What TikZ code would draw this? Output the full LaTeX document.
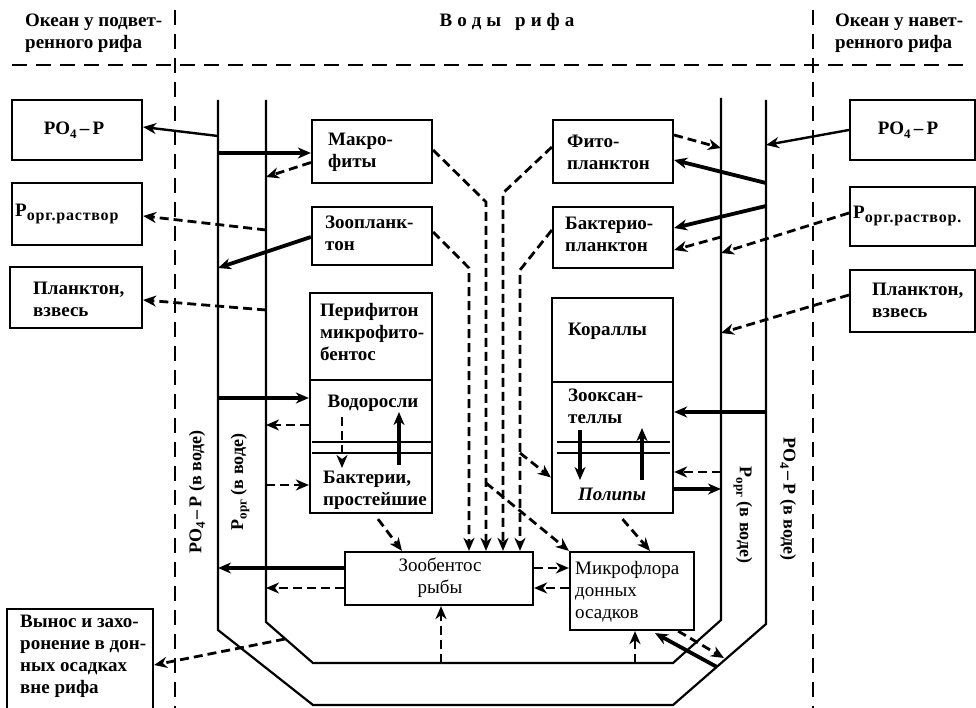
\documentclass[tikz,border=0pt]{standalone}
\usepackage{fontspec}
\setmainfont{Liberation Serif}
\usetikzlibrary{arrows.meta,calc}
\newcommand\bxf{\fontsize{19}{22}\selectfont\bfseries}
\newcommand\rgf{\fontsize{19}{22}\selectfont}
\newcommand\chf{\fontsize{18}{20}\selectfont\bfseries}
\newcommand\lowsub[1]{\raisebox{-3.5pt}{\fontsize{13}{13}\selectfont #1}}
\newcommand\orgsub[1]{\raisebox{-4pt}{\fontsize{16}{16}\selectfont\addfontfeature{LetterSpace=5}#1}}
\begin{document}
\begin{tikzpicture}[x=1pt,y=-1pt,
  >={Stealth[length=13pt,width=11pt,inset=4pt]},
  box/.style={draw,line width=2.2pt,inner sep=0pt},
  txt/.style={inner sep=0pt,align=left,font=\bxf},
  chan/.style={line width=2.2pt,line join=miter},
  thinarr/.style={->,line width=2.4pt},
  thickarr/.style={->,line width=3.8pt},
  dasharr/.style={->,line width=2.8pt,dash pattern=on 9pt off 5pt},
  border/.style={line width=2.2pt,dash pattern=on 15pt off 9pt}]
\useasboundingbox (0,0) rectangle (976,708);
% separators
\draw[border] (175,10) -- (175,708);
\draw[border] (813,10) -- (813,708);
\draw[border] (12,65) -- (965,65);
% headers
\node[txt,anchor=west] (hl) at (25,33) {Океан у подвет-\\ренного рифа};
\node[txt,anchor=west] (hr) at (835,33) {Океан у навет-\\ренного рифа};
\node[txt,font=\fontsize{19}{20}\selectfont\bfseries] (hc) at (507,22) {В\hspace{5pt}о\hspace{5pt}д\hspace{5pt}ы\hspace{14pt}р\hspace{5pt}и\hspace{5pt}ф\hspace{5pt}а};
% channels
\draw[chan] (218,100) -- (218,630) -- (313,705) -- (673,705) -- (766,624) -- (766,100);
\draw[chan] (266,100) -- (266,622) -- (313,663) -- (673,663) -- (721,620) -- (721,98);
\node[txt,font=\chf,rotate=90] (chl1) at (197,492) {PO\lowsub{4}\,–\,P (в воде)};
\node[txt,font=\chf,rotate=90] (chl2) at (240,482) {P\lowsub{орг} (в воде)};
\node[txt,font=\chf,rotate=-90] (chr2) at (743,515) {P\lowsub{орг} (в воде)};
\node[txt,font=\chf,rotate=-90] (chr1) at (788,499) {PO\lowsub{4}\,–\,P (в воде)};
% ocean boxes left
\node[box,minimum width=130pt,minimum height=60pt] (l_po4) at (77,130) {};
\node[txt] (l_po4t) at (74,130) {PO\lowsub{4}\,–\,P};
\node[box,minimum width=130pt,minimum height=62pt] (l_porg) at (77,214) {};
\node[txt,anchor=west] (l_porgt) at (15,214) {P\orgsub{орг.раствор}};
\node[box,minimum width=132pt,minimum height=61pt] (l_plank) at (76,297.5) {};
\node[txt,anchor=west] (l_plankt) at (33,299) {Планктон,\\взвесь};
\node[box,minimum width=146pt,minimum height=106pt] (l_vynos) at (80,662) {};
\node[txt,anchor=west] (l_vynost) at (20,656) {Вынос и захо-\\ронение в дон-\\ных осадках\\вне рифа};
% ocean boxes right
\node[box,minimum width=125pt,minimum height=60pt] (r_po4) at (912.5,130) {};
\node[txt] (r_po4t) at (908,130) {PO\lowsub{4}\,–\,P};
\node[box,minimum width=125pt,minimum height=59pt] (r_porg) at (912.5,216.5) {};
\node[txt,anchor=west] (r_porgt) at (853,216) {P\orgsub{орг.раствор.}};
\node[box,minimum width=125pt,minimum height=62pt] (r_plank) at (912.5,301) {};
\node[txt,anchor=west] (r_plankt) at (872,300) {Планктон,\\взвесь};
% reef boxes
\node[box,minimum width=120pt,minimum height=63pt] (makro) at (372,151.5) {};
\node[txt,anchor=west] (makrot) at (328,152) {Макро-\\фиты};
\node[box,minimum width=120pt,minimum height=58pt] (zoopl) at (372,236) {};
\node[txt,anchor=west] (zooplt) at (325,233) {Зоопланк-\\тон};
\node[box,minimum width=122pt,minimum height=87pt] (perif_top) at (371,336.5) {};
\node[txt,anchor=west] (perift) at (320,332) {Перифитон\\микрофито-\\бентос};
\node[box,minimum width=122pt,minimum height=133pt] (perif_bot) at (371,446.5) {};
\node[txt] (perif_alg) at (373,403) {Водоросли};
\node[txt,anchor=west] (perif_bac) at (323,490) {Бактерии,\\простейшие};
\node[box,minimum width=120pt,minimum height=63pt] (fito) at (613,151.5) {};
\node[txt,anchor=west] (fitot) at (567,152) {Фито-\\планктон};
\node[box,minimum width=120pt,minimum height=61pt] (bakt) at (613,237.5) {};
\node[txt,anchor=west] (baktt) at (565,234) {Бактерио-\\планктон};
\node[box,minimum width=121pt,minimum height=84pt] (kor_top) at (612.5,340) {};
\node[txt,anchor=west] (kor_t) at (568,331) {Кораллы};
\node[box,minimum width=121pt,minimum height=131pt] (kor_bot) at (612.5,447.5) {};
\node[txt,anchor=west] (kor_zoox) at (568,406) {Зооксан-\\теллы};
\node[txt,font=\bxf\itshape] (kor_pol) at (612,494) {Полипы};
\node[box,minimum width=188pt,minimum height=53pt] (zoob) at (439,578.5) {};
\node[txt,align=center,font=\rgf] (zoobt) at (440,578) {Зообентос\\рыбы};
\node[box,minimum width=124pt,minimum height=78pt] (mikro) at (632,591) {};
\node[txt,anchor=west,font=\rgf] (mikrot) at (575,592) {Микрофлора\\донных\\осадков};
% inner double lines
\draw[line width=2pt] (312,442) -- (432,442) (312,453) -- (432,453);
\draw[line width=2pt] (557,442) -- (670,442) (557,453) -- (670,453);
% inner arrows
\coordinate (pa1) at (342,417); \coordinate (pa2) at (342,468);
\draw[dasharr] (pa1) -- (pa2);
\coordinate (pb1) at (399,465); \coordinate (pb2) at (399,412);
\draw[->,line width=3.2pt] (pb1) -- (pb2);
\coordinate (ka1) at (580,430); \coordinate (ka2) at (580,480);
\draw[->,line width=3.2pt] (ka1) -- (ka2);
\coordinate (kb1) at (642,480); \coordinate (kb2) at (642,428);
\draw[->,line width=3.2pt] (kb1) -- (kb2);
% left connectors
\coordinate (LOa) at (218,136);
\draw[thinarr] (LOa) -- ($(l_po4.east)+(0,-3)$);
\coordinate (LOb) at (218,153);
\draw[thickarr] (LOb) -- (LOb -| makro.west);
\coordinate (LIa) at (266,177);
\draw[dasharr] ($(makro.west)+(0,11)$) -- (LIa);
\coordinate (LIb) at (266,230);
\draw[dasharr] (LIb) -- ($(l_porg.east)+(0,2)$);
\coordinate (LOc) at (218,268);
\draw[thickarr] ($(zoopl.west)+(0,1)$) -- (LOc);
\coordinate (LIc) at (266,310);
\draw[dasharr] (LIc) -- ($(l_plank.east)+(0,2.5)$);
\coordinate (LOd) at (218,398);
\draw[thickarr] (LOd) -- (LOd -| perif_bot.west);
\coordinate (LIe) at (266,425);
\draw[dasharr] (LIe -| perif_bot.west) -- (LIe);
\coordinate (LIf) at (266,485);
\draw[dasharr] (LIf) -- (LIf -| perif_bot.west);
\coordinate (LOe) at (218,568);
\draw[thickarr] (LOe -| zoob.west) -- (LOe);
\coordinate (LIg) at (266,588);
\draw[dasharr] (LIg -| zoob.west) -- (LIg);
\coordinate (LDa) at (285,639);
\draw[dasharr] (LDa) -- ($(l_vynos.east)+(0,3)$);
% center connectors
\coordinate (M1) at (486,202);
\draw[dasharr] ($(makro.east)+(0,-1.5)$) -- (M1) -- (M1 |- zoob.north);
\coordinate (M2) at (469,268);
\draw[dasharr] ($(zoopl.east)+(0,-4)$) -- (M2) -- (M2 |- zoob.north);
\coordinate (M3) at (503,193);
\draw[dasharr] ($(fito.west)+(0,-4.5)$) -- (M3) -- (M3 |- zoob.north);
\coordinate (M4) at (520,270);
\draw[dasharr] ($(bakt.west)+(0,-7.5)$) -- (M4) -- (M4 |- zoob.north);
\coordinate (M5) at (520,453);
\draw[dasharr] (M5) -- ($(kor_bot.west)+(0,30)$);
\coordinate (M6) at (486,483);
\draw[dasharr] (M6) -- (mikro.north west);
\draw[dasharr] ($(perif_bot.south)+(7,5)$) -- ($(zoob.north)+(-37,0)$);
\draw[dasharr] ($(kor_bot.south)+(10,5)$) -- ($(mikro.north)+(18,0)$);
\coordinate (Z1) at ($(zoob.east)+(0,-10.5)$);
\draw[dasharr] (Z1) -- (Z1 -| mikro.west);
\coordinate (Z2) at ($(zoob.east)+(0,9.5)$);
\draw[dasharr] (Z2 -| mikro.west) -- (Z2);
\coordinate (B1) at (441,663);
\draw[dasharr] (B1) -- (B1 |- zoob.south);
\coordinate (B2) at (635,663);
\draw[dasharr] (B2) -- (B2 |- mikro.south);
\coordinate (B3) at (717,667);
\draw[thickarr] (B3) -- ($(mikro.south)+(23,2)$);
\coordinate (B4) at (724,658);
\draw[dasharr] ($(mikro.south east)+(-17,0)$) -- (B4);
% right connectors
\coordinate (ROa) at (766,145);
\draw[thinarr] (r_po4.west) -- (ROa);
\coordinate (ROb) at (766,183);
\draw[thickarr] (ROb) -- ($(fito.east)+(0,8.5)$);
\coordinate (RIa) at (721,148);
\draw[dasharr] ($(fito.east)+(0,-16.5)$) -- (RIa);
\coordinate (ROc) at (766,206);
\draw[thickarr] (ROc) -- ($(bakt.east)+(0,-9.5)$);
\coordinate (RIb) at (721,253);
\draw[dasharr] ($(r_porg.west)+(0,-3.5)$) -- (RIb);
\coordinate (RIc) at (721,237);
\draw[dasharr] (RIc) -- ($(bakt.east)+(0,12.5)$);
\coordinate (RId) at (721,333);
\draw[dasharr] ($(r_plank.west)+(0,-6)$) -- (RId);
\coordinate (ROd) at (766,412);
\draw[thickarr] (ROd) -- (ROd -| kor_bot.east);
\coordinate (RIe) at (721,472);
\draw[dasharr] (RIe) -- (RIe -| kor_bot.east);
\coordinate (RIf) at (721,489);
\draw[thickarr] (RIf -| kor_bot.east) -- (RIf);
\end{tikzpicture}
\end{document}
